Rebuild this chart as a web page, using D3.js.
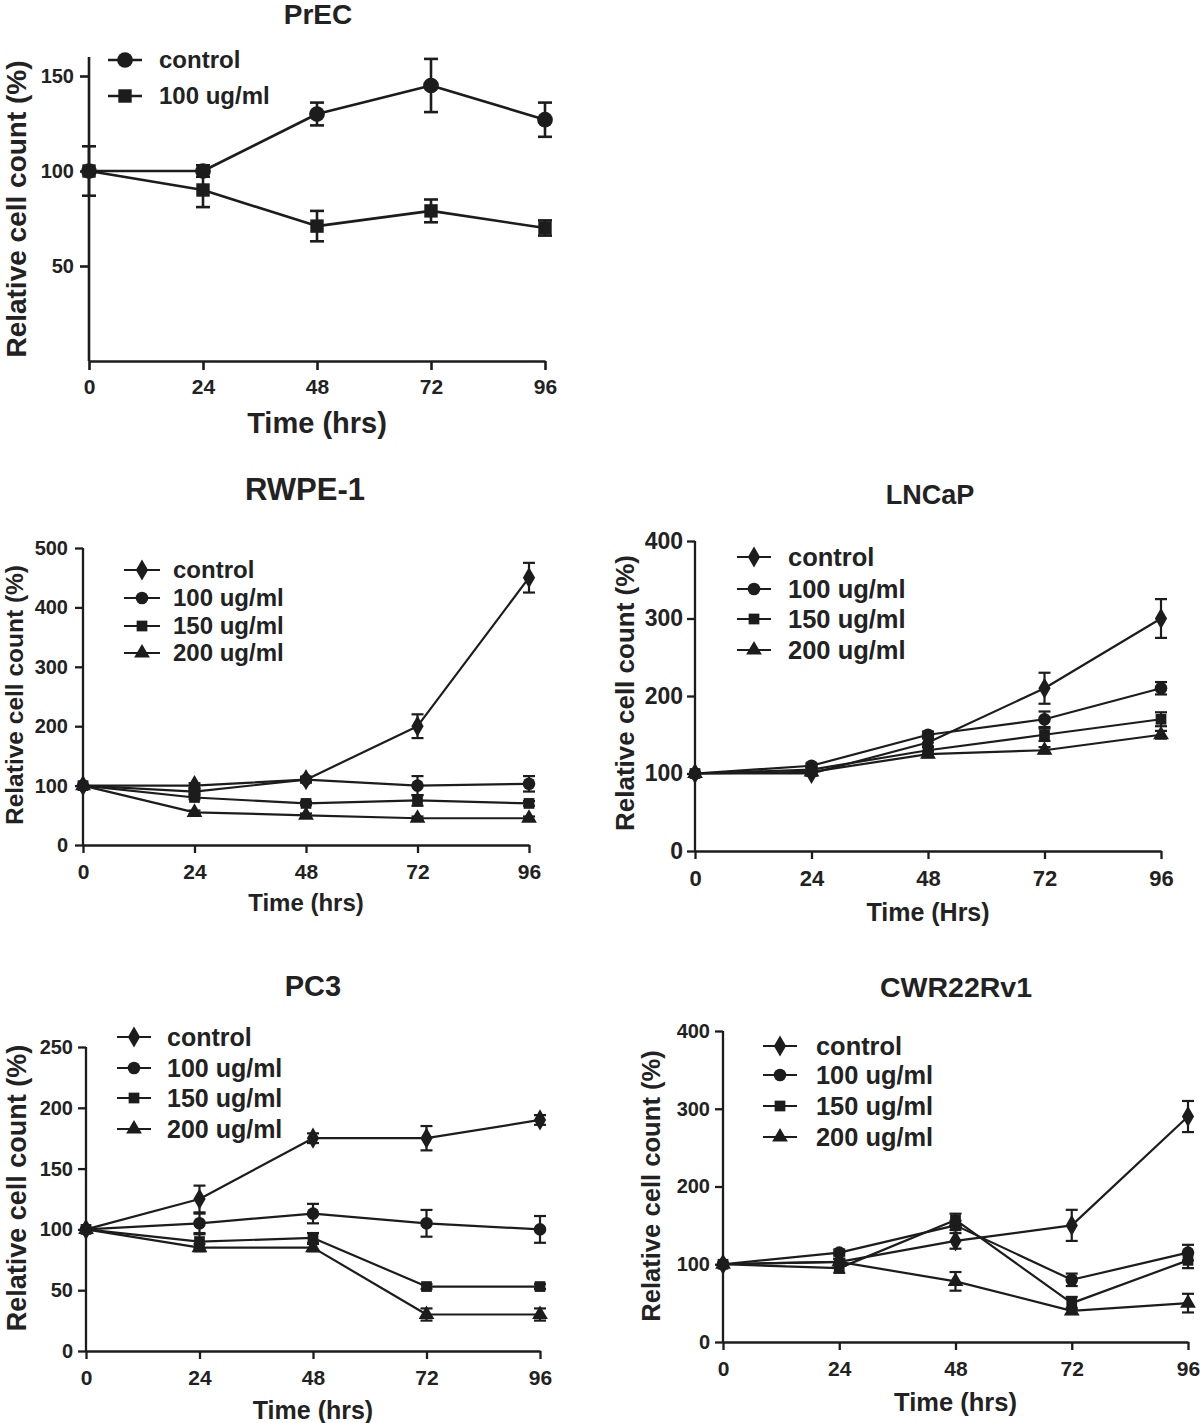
<!DOCTYPE html>
<html><head><meta charset="utf-8">
<script src="https://cdn.jsdelivr.net/npm/d3@7"></script>
<style>
html,body{margin:0;padding:0;background:#fff;}
svg text{font-family:"Liberation Sans",Arial,Helvetica,sans-serif;font-weight:bold;fill:#222;}
</style></head>
<body><svg id="chart" width="1200" height="1423"></svg>
<script>
// ---------- data ----------
const times = [0, 24, 48, 72, 96];
const xTickLabels = ["0", "24", "48", "72", "96"];

// PrEC
const precLabels = ["control", "100 ug/ml"];
const precControl = [100, 100, 130, 145, 127];
const precControlErr = [0, 3, 6, 14, 9];
const prec100 = [100, 90, 71, 79, 70];
const prec100Err = [13, 9, 8, 6, 4];
const precYTicks = [50, 100, 150];

const fourLabels = ["control", "100 ug/ml", "150 ug/ml", "200 ug/ml"];

// RWPE-1
const rwpeControl = [100, 100, 110, 200, 450];
const rwpeControlErr = [0, 4, 4, 20, 25];
const rwpe100 = [100, 90, 110, 100, 103];
const rwpe100Err = [0, 5, 5, 16, 13];
const rwpe150 = [100, 80, 70, 75, 70];
const rwpe150Err = [0, 3, 3, 9, 4];
const rwpe200 = [100, 55, 50, 45, 45];
const rwpe200Err = [0, 3, 3, 3, 3];
const rwpeYTicks = [0, 100, 200, 300, 400, 500];

// LNCaP
const lncapControl = [100, 100, 140, 210, 300];
const lncapControlErr = [0, 3, 5, 20, 25];
const lncap100 = [100, 110, 150, 170, 210];
const lncap100Err = [0, 3, 4, 10, 8];
const lncap150 = [100, 105, 130, 150, 170];
const lncap150Err = [0, 3, 4, 8, 9];
const lncap200 = [100, 102, 125, 130, 150];
const lncap200Err = [0, 3, 4, 4, 5];
const lncapYTicks = [0, 100, 200, 300, 400];

// PC3
const pc3Control = [100, 125, 175, 175, 190];
const pc3ControlErr = [0, 11, 4, 10, 4];
const pc3100 = [100, 105, 113, 105, 100];
const pc3100Err = [0, 8, 8, 11, 11];
const pc3150 = [100, 90, 93, 53, 53];
const pc3150Err = [0, 6, 4, 2, 2];
const pc3200 = [100, 85, 85, 30, 30];
const pc3200Err = [0, 3, 3, 5, 5];
const pc3YTicks = [0, 50, 100, 150, 200, 250];

// CWR22Rv1
const cwrControl = [100, 103, 130, 150, 290];
const cwrControlErr = [0, 4, 10, 20, 20];
const cwr100 = [100, 115, 150, 80, 115];
const cwr100Err = [0, 4, 6, 8, 10];
const cwr150 = [100, 95, 157, 50, 105];
const cwr150Err = [0, 6, 8, 8, 10];
const cwr200 = [100, 103, 78, 40, 50];
const cwr200Err = [0, 4, 12, 4, 12];
const cwrYTicks = [0, 100, 200, 300, 400];

// ---------- drawing ----------
const svg = d3.select("#chart");
const ink = "#1c1c1c";

function symbolPath(kind, s) {
  const map = {
    diamond: d3.symbol().type(d3.symbolDiamond).size(s * s * 0.9),
    circle: d3.symbol().type(d3.symbolCircle).size(Math.PI * (s / 2) * (s / 2) * 1.1),
    square: d3.symbol().type(d3.symbolSquare).size(s * s * 0.8),
    triangle: d3.symbol().type(d3.symbolTriangle).size(s * s * 0.75)
  };
  return map[kind]();
}

function drawPanel(L, series, yTicks, labels, texts) {
  const x = d3.scaleLinear().domain([0, 96]).range([L.x0, L.x1]);
  const y = d3.scaleLinear().domain([0, L.ymax]).range([L.y0, L.yTop]);
  const g = svg.append("g");

  g.append("text").attr("x", L.titleX).attr("y", L.titleY).attr("text-anchor", "middle")
    .attr("font-size", L.titleSize).text(texts.title);

  const xa = g.append("g").attr("transform", `translate(0,${L.y0})`)
    .call(d3.axisBottom(x).tickValues(times).tickFormat((d, i) => xTickLabels[i])
      .tickSize(L.tick).tickSizeOuter(0).tickPadding(L.xPad));
  const ya = g.append("g").attr("transform", `translate(${L.x0},0)`)
    .call(d3.axisLeft(y).tickValues(yTicks).tickSize(L.tick).tickSizeOuter(0).tickPadding(L.yPad));
  ya.select(".domain").attr("d", `M0,${L.y0}V${L.yTop}`);
  [xa, ya].forEach(a => {
    a.selectAll(".domain").attr("stroke", ink).attr("stroke-width", L.axisW);
    a.selectAll(".tick line").attr("stroke", ink).attr("stroke-width", L.axisW);
    a.selectAll(".tick text").attr("fill", "#222")
      .attr("font-family", '"Liberation Sans",Arial,sans-serif').attr("font-weight", "bold");
  });
  xa.selectAll(".tick text").attr("font-size", L.xTickSize);
  ya.selectAll(".tick text").attr("font-size", L.yTickSize);

  g.append("text").attr("x", (L.x0 + L.x1) / 2).attr("y", L.xLabelY).attr("text-anchor", "middle")
    .attr("font-size", L.xLabelSize).text(texts.xLabel);
  g.append("text").attr("transform", `translate(${L.yLabelX},${L.yLabelY}) rotate(-90)`)
    .attr("text-anchor", "middle").attr("font-size", L.yLabelSize).text(texts.yLabel);

  const line = d3.line().x((d, i) => x(times[i])).y(d => y(d));

  series.forEach(s => {
    const sg = g.append("g");
    sg.append("path").attr("d", line(s.values)).attr("fill", "none")
      .attr("stroke", ink).attr("stroke-width", L.lineW).attr("stroke-linejoin", "round");
    s.values.forEach((v, i) => {
      const e = s.err[i];
      if (e > 0) {
        const cx = x(times[i]);
        sg.append("line").attr("x1", cx).attr("x2", cx).attr("y1", y(v - e)).attr("y2", y(v + e))
          .attr("stroke", ink).attr("stroke-width", L.lineW);
        [v - e, v + e].forEach(b => sg.append("line").attr("x1", cx - L.cap).attr("x2", cx + L.cap)
          .attr("y1", y(b)).attr("y2", y(b)).attr("stroke", ink).attr("stroke-width", L.lineW));
      }
    });
    sg.selectAll("path.m").data(s.values).enter().append("path").attr("class", "m")
      .attr("d", symbolPath(s.sym, L.mark))
      .attr("transform", (d, i) => `translate(${x(times[i])},${y(d)})`)
      .attr("fill", ink);
  });

  series.forEach((s, k) => {
    const ly = L.legY[k];
    g.append("line").attr("x1", L.legX1).attr("x2", L.legX2).attr("y1", ly).attr("y2", ly)
      .attr("stroke", ink).attr("stroke-width", L.lineW);
    g.append("path").attr("d", symbolPath(s.sym, L.mark))
      .attr("transform", `translate(${(L.legX1 + L.legX2) / 2},${ly})`).attr("fill", ink);
    g.append("text").attr("x", L.legTextX).attr("y", ly).attr("dy", "0.35em")
      .attr("font-size", L.legSize).text(labels[k]);
  });
}

function four(c, e1, a, ea, b, eb, t, et) {
  return [
    { sym: "diamond", values: c, err: e1 },
    { sym: "circle", values: a, err: ea },
    { sym: "square", values: b, err: eb },
    { sym: "triangle", values: t, err: et }
  ];
}

// PrEC
drawPanel(
  { x0: 89, x1: 545, y0: 361, yTop: 57, ymax: 160, tick: 9, xPad: 9, yPad: 6,
    axisW: 2.6, lineW: 2.6, cap: 7, mark: 15, xTickSize: 21, yTickSize: 20,
    titleX: 318, titleY: 24, titleSize: 28,
    xLabelY: 433, xLabelSize: 29, yLabelX: 26, yLabelY: 209, yLabelSize: 28,
    legX1: 108, legX2: 142, legTextX: 159, legY: [60, 96], legSize: 24 },
  [{ sym: "circle", values: precControl, err: precControlErr },
   { sym: "square", values: prec100, err: prec100Err }],
  precYTicks, precLabels,
  { title: "PrEC", xLabel: "Time (hrs)", yLabel: "Relative cell count (%)" });

// RWPE-1
drawPanel(
  { x0: 83, x1: 529, y0: 845, yTop: 548, ymax: 500, tick: 8, xPad: 11, yPad: 7,
    axisW: 2.3, lineW: 2.2, cap: 6, mark: 12, xTickSize: 21, yTickSize: 20,
    titleX: 305, titleY: 500, titleSize: 31,
    xLabelY: 911, xLabelSize: 24, yLabelX: 23, yLabelY: 695, yLabelSize: 24.5,
    legX1: 124, legX2: 160, legTextX: 173, legY: [570, 598, 626, 653], legSize: 24 },
  four(rwpeControl, rwpeControlErr, rwpe100, rwpe100Err, rwpe150, rwpe150Err, rwpe200, rwpe200Err),
  rwpeYTicks, fourLabels,
  { title: "RWPE-1", xLabel: "Time (hrs)", yLabel: "Relative cell count (%)" });

// LNCaP
drawPanel(
  { x0: 695, x1: 1161, y0: 851, yTop: 541, ymax: 400, tick: 8, xPad: 11, yPad: 4,
    axisW: 2.3, lineW: 2.2, cap: 6, mark: 12, xTickSize: 22, yTickSize: 23,
    titleX: 930, titleY: 504, titleSize: 27,
    xLabelY: 921, xLabelSize: 25, yLabelX: 634, yLabelY: 693, yLabelSize: 26,
    legX1: 737, legX2: 771, legTextX: 788, legY: [557, 589, 619, 650], legSize: 25.5 },
  four(lncapControl, lncapControlErr, lncap100, lncap100Err, lncap150, lncap150Err, lncap200, lncap200Err),
  lncapYTicks, fourLabels,
  { title: "LNCaP", xLabel: "Time (Hrs)", yLabel: "Relative cell count (%)" });

// PC3
drawPanel(
  { x0: 86, x1: 540, y0: 1351, yTop: 1047, ymax: 250, tick: 8, xPad: 11, yPad: 5,
    axisW: 2.3, lineW: 2.2, cap: 6, mark: 12, xTickSize: 21, yTickSize: 20,
    titleX: 313, titleY: 996, titleSize: 29,
    xLabelY: 1419, xLabelSize: 25, yLabelX: 26, yLabelY: 1188, yLabelSize: 27,
    legX1: 117, legX2: 151, legTextX: 167, legY: [1037, 1068, 1098, 1129], legSize: 25 },
  four(pc3Control, pc3ControlErr, pc3100, pc3100Err, pc3150, pc3150Err, pc3200, pc3200Err),
  pc3YTicks, fourLabels,
  { title: "PC3", xLabel: "Time (hrs)", yLabel: "Relative cell count (%)" });

// CWR22Rv1
drawPanel(
  { x0: 723, x1: 1188, y0: 1342, yTop: 1031, ymax: 400, tick: 8, xPad: 11, yPad: 5,
    axisW: 2.3, lineW: 2.2, cap: 6, mark: 12, xTickSize: 21, yTickSize: 20,
    titleX: 956, titleY: 997, titleSize: 28.5,
    xLabelY: 1411, xLabelSize: 25.5, yLabelX: 660, yLabelY: 1186, yLabelSize: 25.6,
    legX1: 763, legX2: 797, legTextX: 816, legY: [1046, 1075, 1106, 1137], legSize: 25.4 },
  four(cwrControl, cwrControlErr, cwr100, cwr100Err, cwr150, cwr150Err, cwr200, cwr200Err),
  cwrYTicks, fourLabels,
  { title: "CWR22Rv1", xLabel: "Time (hrs)", yLabel: "Relative cell count (%)" });
</script></body></html>
